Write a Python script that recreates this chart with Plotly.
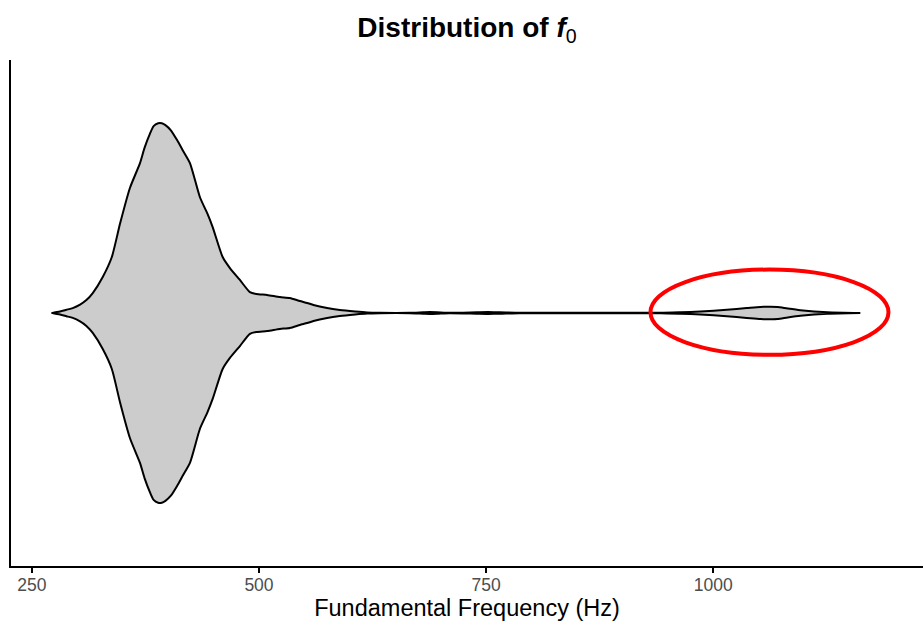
import plotly.graph_objects as go

# Fundamental frequency grid (Hz) and relative density (peak = 1)
freq_hz = [272, 281, 288, 295, 303, 310, 317, 328, 338, 347, 358, 369, 374, 380, 384,
           389, 393, 397, 403, 410, 416, 424, 435, 443, 449, 460, 468, 479, 490, 497,
           509, 523, 534, 545, 553, 560, 575, 589, 606, 619, 633, 666, 681, 688, 696,
           710, 740, 752, 765, 787, 876, 942, 964, 986, 1015, 1037, 1052, 1063, 1071,
           1082, 1096, 1126, 1162]
density_rel = [0.0, 0.008, 0.017, 0.026, 0.044, 0.068, 0.105, 0.19, 0.295, 0.47, 0.66,
               0.79, 0.87, 0.945, 0.985, 1.0, 1.0, 0.99, 0.963, 0.91, 0.858, 0.79, 0.61,
               0.526, 0.453, 0.295, 0.237, 0.174, 0.11, 0.1, 0.095, 0.084, 0.079, 0.063,
               0.053, 0.042, 0.026, 0.016, 0.008, 0.003, 0.001, 0.001, 0.004, 0.005, 0.004,
               0.001, 0.004, 0.005, 0.004, 0.001, 0.001, 0.001, 0.004, 0.008, 0.017, 0.026,
               0.032, 0.033, 0.032, 0.024, 0.015, 0.004, 0.0]

x_ticks = [250, 500, 750, 1000]

# highlighted region (red ellipse) in data units
highlight_x = [931, 1193]
highlight_y = [0.901, 1.103]

center = 1.0
half_width = 0.45

upper = [center + half_width * d for d in density_rel]
lower = [center - half_width * d for d in density_rel]

fig = go.Figure()
fig.add_trace(go.Scatter(
    x=freq_hz + freq_hz[::-1],
    y=upper + lower[::-1],
    fill="toself",
    fillcolor="#CCCCCC",
    mode="lines",
    line=dict(color="black", width=2, shape="spline", smoothing=0.6),
    hoverinfo="skip",
    showlegend=False,
))

fig.add_shape(
    type="circle", xref="x", yref="y",
    x0=highlight_x[0], x1=highlight_x[1],
    y0=highlight_y[0], y1=highlight_y[1],
    line=dict(color="#FF0000", width=4),
)

font_family = "Liberation Sans, Arial, Helvetica, sans-serif"

fig.update_layout(
    width=923, height=625,
    margin=dict(l=11, r=0, t=60, b=59),
    plot_bgcolor="white", paper_bgcolor="white",
    font=dict(family=font_family, color="black"),
    title=dict(
        text="<b>Distribution of <i>f</i></b><sub>0</sub>",
        x=(11 + 923) / 2 / 923, xanchor="center",
        y=1 - 27 / 625, yanchor="middle",
        font=dict(size=28, family=font_family, color="black"),
    ),
    xaxis=dict(
        range=[227, 1231],
        tickvals=x_ticks,
        ticktext=[str(v) for v in x_ticks],
        showgrid=False, zeroline=False,
        showline=True, linecolor="black", linewidth=1.8,
        ticks="outside", ticklen=5, tickwidth=1.8, tickcolor="black",
        ticklabelstandoff=-3,
        tickfont=dict(size=17.5, color="#4D4D4D", family=font_family),
        title=dict(text="Fundamental Frequency (Hz)", standoff=2,
                   font=dict(size=23.5, color="black", family=font_family)),
    ),
    yaxis=dict(
        range=[0.4, 1.6],
        showgrid=False, zeroline=False,
        showline=True, linecolor="black", linewidth=1.8,
        ticks="", showticklabels=False,
    ),
)

fig.write_html("out.html")
